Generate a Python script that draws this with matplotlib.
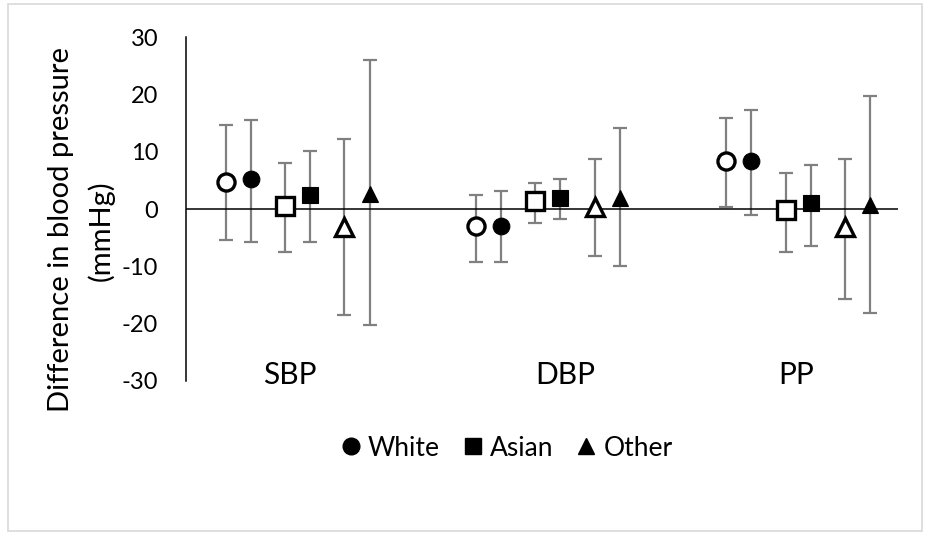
import matplotlib
matplotlib.use("Agg")
import matplotlib.pyplot as plt
from matplotlib.lines import Line2D
from matplotlib.patches import Rectangle
import numpy as np

plt.rcParams['font.family'] = ['Lato', 'DejaVu Sans']

# ---- data ----
categories = ["SBP", "DBP", "PP"]
legend_labels = ["White", "Asian", "Other"]

# open-marker series (first of each pair) and filled-marker series (second)
white_open_mean = [4.8, -3.0, 8.4]
white_open_lo   = [-5.4, -9.3, 0.3]
white_open_hi   = [14.6, 2.4, 15.9]

white_fill_mean = [5.2, -3.0, 8.4]
white_fill_lo   = [-5.8, -9.3, -1.1]
white_fill_hi   = [15.5, 3.2, 17.3]

asian_open_mean = [0.6, 1.4, -0.1]
asian_open_lo   = [-7.6, -2.5, -7.5]
asian_open_hi   = [8.1, 4.6, 6.3]

asian_fill_mean = [2.4, 2.0, 1.0]
asian_fill_lo   = [-5.8, -1.8, -6.4]
asian_fill_hi   = [10.2, 5.3, 7.7]

other_open_mean = [-3.1, 0.35, -3.1]
other_open_lo   = [-18.5, -8.2, -15.7]
other_open_hi   = [12.3, 8.8, 8.8]

other_fill_mean = [2.7, 1.9, 0.65]
other_fill_lo   = [-20.2, -10.0, -18.2]
other_fill_hi   = [26.0, 14.2, 19.8]

y_ticks = [-30, -20, -10, 0, 10, 20, 30]

# ---- figure ----
W, H = 926, 533
fig = plt.figure(figsize=(W / 100, H / 100), dpi=100)

def fx(px):
    return px / W

def fy(py):
    return 1 - py / H

ax_left, ax_right, ax_top, ax_bottom = 186, 898, 37.4, 380.6
ax = fig.add_axes([fx(ax_left), fy(ax_bottom), fx(ax_right) - fx(ax_left), fy(ax_top) - fy(ax_bottom)])

series = [
    (white_open_mean, white_open_lo, white_open_hi, 'o', False),
    (white_fill_mean, white_fill_lo, white_fill_hi, 'o', True),
    (asian_open_mean, asian_open_lo, asian_open_hi, 's', False),
    (asian_fill_mean, asian_fill_lo, asian_fill_hi, 's', True),
    (other_open_mean, other_open_lo, other_open_hi, '^', False),
    (other_fill_mean, other_fill_lo, other_fill_hi, '^', True),
]
offsets = [-0.288, -0.189, -0.051, 0.048, 0.185, 0.287]

base = np.arange(len(categories))
for (mean, lo, hi, mk, filled), off in zip(series, offsets):
    mean = np.array(mean)
    x = base + off
    yerr = np.vstack([mean - np.array(lo), np.array(hi) - mean])
    ax.errorbar(x, mean, yerr=yerr, fmt='none', ecolor='#808080',
                elinewidth=1.6, capsize=4.7, capthick=1.6, zorder=2)
    if filled:
        ax.plot(x, mean, linestyle='none', marker=mk, markersize=12,
                markerfacecolor='black', markeredgecolor='black',
                markeredgewidth=0.8, zorder=4)
    else:
        ax.plot(x, mean, linestyle='none', marker=mk, markersize=12.3,
                markerfacecolor='white', markeredgecolor='black',
                markeredgewidth=2.4, zorder=4)

ax.axhline(0, color='black', linewidth=1.1, zorder=3)

ax.set_xlim(-0.4476, 2.3976)
ax.set_ylim(-30, 30)
ax.set_yticks(y_ticks)
ax.set_yticklabels([str(v) for v in y_ticks], fontsize=17)
ax.tick_params(axis='y', length=0, pad=20)
ax.set_xticks([])
for s in ['top', 'right', 'bottom']:
    ax.spines[s].set_visible(False)
ax.spines['left'].set_linewidth(1.1)
ax.set_facecolor('none')

# category labels
cat_px = [290, 565, 796]
for name, px in zip(categories, cat_px):
    fig.text(fx(px), fy(375), name, fontsize=21.5, ha='center', va='center')

# y label
fig.text(fx(61), fy(230), "Difference in blood pressure", fontsize=21,
         rotation=90, ha='center', va='center')
fig.text(fx(101), fy(231), "(mmHg)", fontsize=21,
         rotation=90, ha='center', va='center')

# legend
handles = [Line2D([], [], linestyle='none', marker=m, markersize=ms,
                  markerfacecolor='black', markeredgecolor='black')
           for m, ms in zip(['o', 's', '^'], [12, 11, 11])]
fig.legend(handles, legend_labels, loc='center', bbox_to_anchor=(fx(507), fy(448)),
           ncol=3, frameon=False, fontsize=19, handlelength=0.7,
           handletextpad=0.3, columnspacing=0.9, borderpad=0)

# outer chart border
fig.add_artist(Rectangle((fx(8), fy(531)), fx(922) - fx(8), fy(4) - fy(531),
                         transform=fig.transFigure, fill=False,
                         edgecolor='#d9d9d9', linewidth=1.2))

fig.savefig("out.png", dpi=100)
